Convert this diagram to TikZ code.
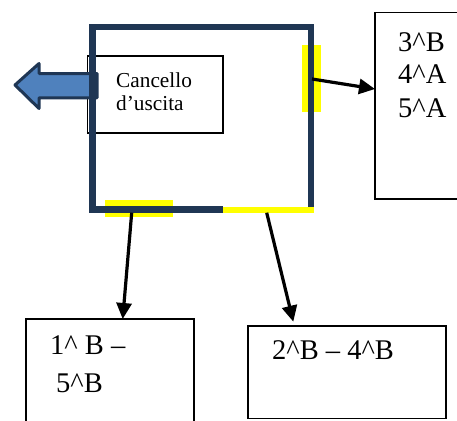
\documentclass[tikz,border=0pt]{standalone}
\usepackage{fontspec}
\setmainfont{Liberation Serif}
\usetikzlibrary{arrows.meta}
\definecolor{navy}{RGB}{31,54,84}
\definecolor{gateblue}{RGB}{79,129,189}
\definecolor{hilite}{RGB}{255,255,0}
\tikzset{
  box/.style={draw=black,line width=1.3pt,rectangle,inner sep=0pt,outer sep=0pt,anchor=north west},
  lbl/.style={anchor=base west,inner sep=0pt,font=\fontsize{28.5}{32}\selectfont},
  smalllbl/.style={anchor=base west,inner sep=0pt,font=\fontsize{21.3}{23.4}\selectfont},
  conn/.style={draw=black,line width=3.2pt,-{Triangle[length=16pt,width=15pt]}},
  wall/.style={draw=navy,line width=6.5pt,line join=miter},
  gatearrow/.style={draw=navy,fill=gateblue,line width=3pt,line join=round},
}
\begin{document}
\begin{tikzpicture}[x=1pt,y=-1pt]
\useasboundingbox (0,0) rectangle (457,420);
\clip (0,0) rectangle (457,420);

% boxes
\node[box,minimum width=135.7pt,minimum height=77pt] (gate) at (87.3,56) {};
\node[box,minimum width=110pt,minimum height=186.7pt] (rbox) at (375,12.3) {};
\node[box,minimum width=168pt,minimum height=130pt] (lbox) at (26,319) {};
\node[box,minimum width=198pt,minimum height=92.5pt] (bbox) at (248,326) {};

% yellow marks
\fill[hilite] (302,45) rectangle (321,112);
\fill[hilite] (105,200) rectangle (173,217);

% blue exit arrow
\draw[gatearrow] (15,85) -- (39,63.5) -- (39,73.5) -- (97,73.5) -- (97,97.8) -- (39,97.8) -- (39,108.5) -- cycle;

% walls
\draw[wall] (223,209.5) -- (92.5,209.5) -- (92.5,27) -- (311,27) -- (311,206.5);
\draw[hilite,line width=6pt] (223,209.7) -- (314,209.7);

% texts
\node[smalllbl] (t1) at (116,87.3) {Cancello};
\node[smalllbl] (t2) at (116,110.7) {d’uscita};
\node[lbl] (r1) at (398,51.7) {3\textasciicircum B};
\node[lbl] (r2) at (398,83.3) {4\textasciicircum A};
\node[lbl] (r3) at (398,117.3) {5\textasciicircum A};
\node[lbl] (l1) at (50,354) {1\textasciicircum{} B –};
\node[lbl] (l2) at (56,392) {5\textasciicircum B};
\node[lbl] (b1) at (272,359) {2\textasciicircum B – 4\textasciicircum B};

% connectors
\coordinate (sR) at (312,79);
\coordinate (eR) at (rbox.north west |- 0,89);
\coordinate (sL) at (131.7,212.7);
\coordinate (eL) at (lbox.north west -| 122.7,0);
\coordinate (sB) at (266.7,212.7);
\coordinate (eB) at (293.3,321.7);
\draw[conn] (sR) -- (eR);
\draw[conn] (sL) -- (eL);
\draw[conn] (sB) -- (eB);
\end{tikzpicture}
\end{document}
